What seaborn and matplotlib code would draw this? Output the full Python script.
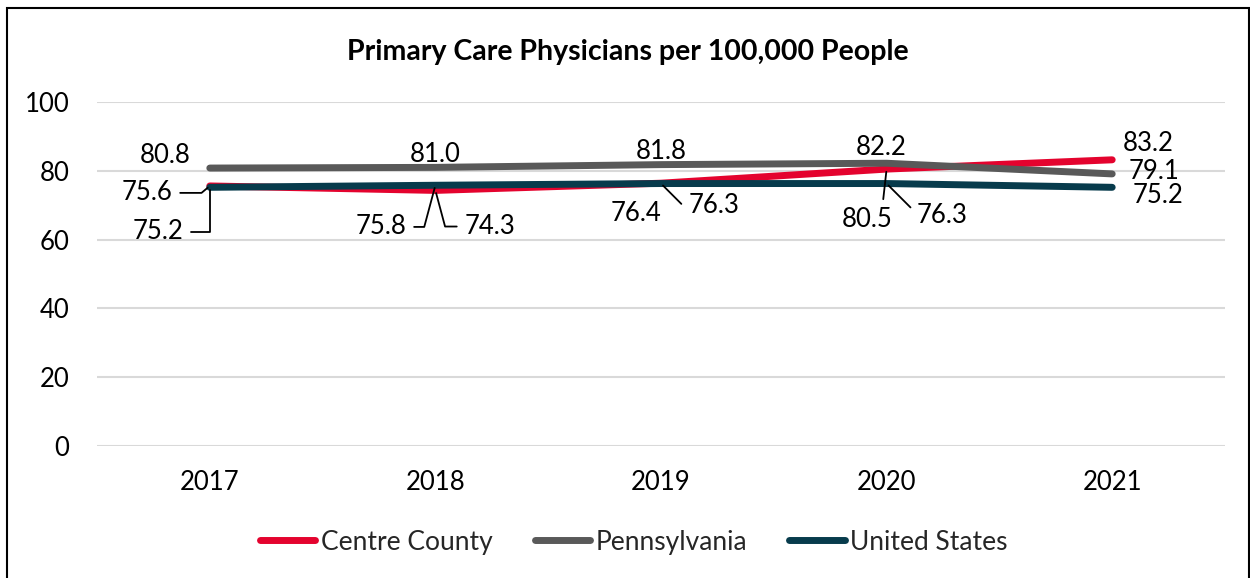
import matplotlib
matplotlib.use("Agg")
import matplotlib.pyplot as plt
from matplotlib.patches import Rectangle
import seaborn as sns
import pandas as pd

years = ["2017", "2018", "2019", "2020", "2021"]
centre_county = [75.6, 74.3, 76.4, 80.5, 83.2]
pennsylvania = [80.8, 81.0, 81.8, 82.2, 79.1]
united_states = [75.2, 75.8, 76.3, 76.3, 75.2]
series_names = ["Centre County", "Pennsylvania", "United States"]
y_ticks = [0, 20, 40, 60, 80, 100]
title = "Primary Care Physicians per 100,000 People"

colors = {"Centre County": "#E4032E", "Pennsylvania": "#595959", "United States": "#073B4C"}

df = pd.DataFrame({
    "year": years * 3,
    "value": centre_county + pennsylvania + united_states,
    "series": [s for s in series_names for _ in years],
})

sns.set_theme(style="white")
plt.rcParams["font.family"] = ["Lato", "DejaVu Sans"]

fig = plt.figure(figsize=(12.5, 5.78), dpi=100)
ax = fig.add_axes([0.0776, 0.2284, 0.9024, 0.5951])

sns.lineplot(data=df, x="year", y="value", hue="series", hue_order=series_names,
             palette=colors, linewidth=5, sort=False, legend=False, ax=ax,
             solid_capstyle="round")

ax.set_xlim(-0.5, len(years) - 0.5)
ax.set_ylim(0, 100)
ax.set_yticks(y_ticks)
ax.yaxis.grid(True, color="#D9D9D9", linewidth=1.5)
ax.set_axisbelow(True)
for side in ["top", "right", "left", "bottom"]:
    ax.spines[side].set_visible(False)
ax.set_xlabel("")
ax.set_ylabel("")
ax.tick_params(axis="y", length=0, pad=20, labelsize=18.5, labelcolor="black")
ax.tick_params(axis="x", length=0, pad=17, labelsize=18.5, labelcolor="black")

# data labels: (series, index, offset in points, leader style)
values = {"Centre County": centre_county, "Pennsylvania": pennsylvania,
          "United States": united_states}
label_layout = [
    ("Pennsylvania", 0, (-32, 9), None),
    ("Centre County", 0, (-45, -5), ("angle", (1, 0.5), 0, 40)),
    ("United States", 0, (-37, -32), ("angle", (1, 0.5), 0, 90)),
    ("Pennsylvania", 1, (0, 9), None),
    ("United States", 1, (-39, -30), ("angle", (1, 0.5), 0, 75)),
    ("Centre County", 1, (39, -26), ("angle", (0, 0.5), 0, 105)),
    ("Pennsylvania", 2, (0, 9.5), None),
    ("Centre County", 2, (-18, -22), None),
    ("United States", 2, (38, -16), ("angle", (0, 0.5), 0, 135)),
    ("Pennsylvania", 3, (-4, 11), None),
    ("Centre County", 3, (-14, -36), ("straight", (0.8, 1), 0, 0)),
    ("United States", 3, (40, -23), ("angle", (0, 0.5), 0, 135)),
    ("Centre County", 4, (26, 12), None),
    ("Pennsylvania", 4, (30, 2), None),
    ("United States", 4, (33, -6), None),
]
for name, i, offset, leader in label_layout:
    v = values[name][i]
    kw = {}
    if leader is not None:
        kind, relpos, a, b = leader
        cs = "arc3" if kind == "straight" else f"angle,angleA={a},angleB={b},rad=0"
        kw["arrowprops"] = dict(arrowstyle="-", color="black", lw=1.3,
                                connectionstyle=cs, relpos=relpos,
                                shrinkA=3, shrinkB=2)
    ax.annotate(f"{v:.1f}", xy=(i, v), xytext=offset, textcoords="offset points",
                ha="center", va="center", fontsize=18.5, color="black", **kw)

fig.text(0.5024, 0.91, title, ha="center", va="center", fontsize=20.5,
         fontweight="bold", color="black")

handles = [plt.Line2D([], [], color=colors[s], linewidth=5, solid_capstyle="round")
           for s in series_names]
fig.legend(handles, series_names, loc="center", bbox_to_anchor=(0.507, 0.062),
           ncol=3, frameon=False, fontsize=19, handlelength=2.1,
           handletextpad=0.2, columnspacing=1.6)

fig.patches.append(Rectangle((0.0052, -0.01), 0.9936, 0.9962, transform=fig.transFigure,
                             fill=False, edgecolor="black", linewidth=1.5, clip_on=False))

fig.savefig("out.png", dpi=100, facecolor="white")
